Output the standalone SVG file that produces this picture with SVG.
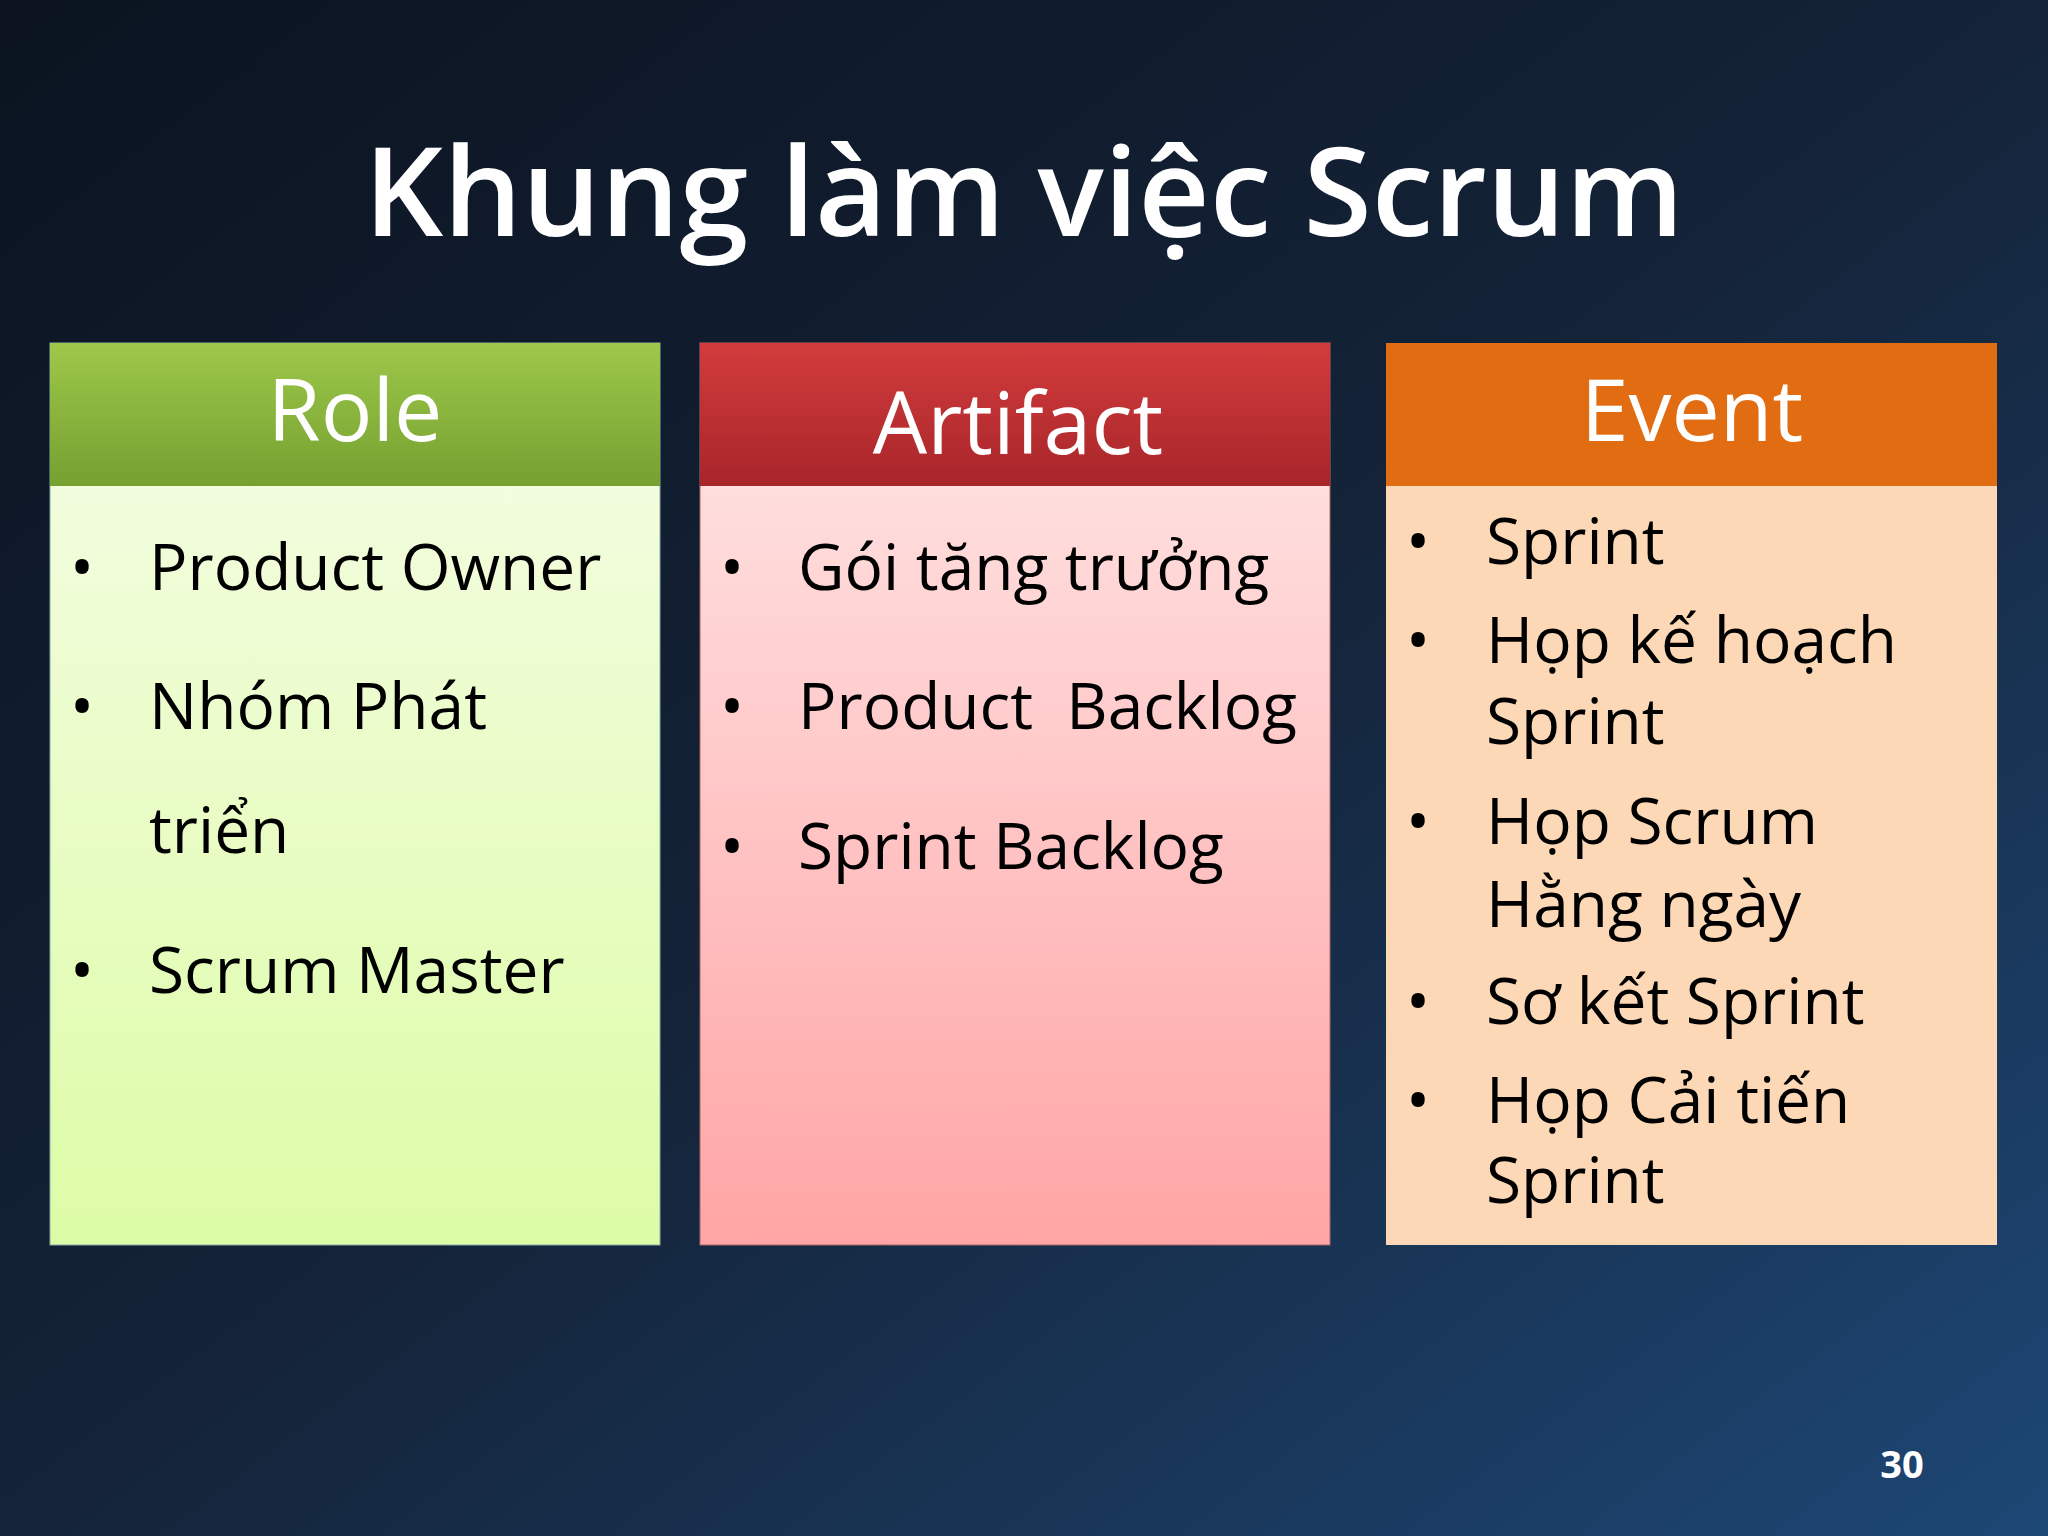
<svg xmlns="http://www.w3.org/2000/svg" width="2048" height="1536" viewBox="0 0 2048 1536">
<defs>
<linearGradient id="bg" x1="0" y1="0" x2="1" y2="1"><stop offset="0" stop-color="#0b1320"/><stop offset="0.5" stop-color="#142338"/><stop offset="1" stop-color="#1d4775"/></linearGradient>
<linearGradient id="gh" x1="0" y1="0" x2="0" y2="1"><stop offset="0" stop-color="#9dc84a"/><stop offset="1" stop-color="#76a030"/></linearGradient>
<linearGradient id="gb" x1="0" y1="0" x2="0" y2="1"><stop offset="0" stop-color="#f6fde8"/><stop offset="1" stop-color="#ddfca6"/></linearGradient>
<linearGradient id="rh" x1="0" y1="0" x2="0" y2="1"><stop offset="0" stop-color="#d23c3c"/><stop offset="1" stop-color="#a8252a"/></linearGradient>
<linearGradient id="rb" x1="0" y1="0" x2="0" y2="1"><stop offset="0" stop-color="#ffe8e8"/><stop offset="1" stop-color="#ffa5a5"/></linearGradient>
<style>
text{font-family:"Open Sans","Noto Sans","DejaVu Sans",sans-serif}
.h{fill:#fff;font-size:86px;text-anchor:middle}
.i{fill:#000;font-size:64px}
</style>
</defs>
<rect width="2048" height="1536" fill="url(#bg)"/>
<text x="1024" y="236" fill="#fff" font-size="124" font-weight="600" text-anchor="middle">Khung làm việc Scrum</text>
<g id="role">
<rect x="50" y="343" width="610" height="902" fill="url(#gb)" stroke="#8aa" stroke-width="1"/>
<rect x="50" y="343" width="610" height="143" fill="url(#gh)"/>
<text class="h" x="355" y="441">Role</text>
<g class="i"><text x="70" y="590">•</text><text x="149" y="590">Product Owner</text>
<text x="70" y="729">•</text><text x="149" y="729">Nhóm Phát</text><text x="149" y="853">triển</text>
<text x="70" y="993">•</text><text x="149" y="993">Scrum Master</text></g>
</g>
<g id="artifact">
<rect x="700" y="343" width="630" height="902" fill="url(#rb)" stroke="#a66" stroke-width="1"/>
<rect x="700" y="343" width="630" height="143" fill="url(#rh)"/>
<text class="h" x="1018" y="454" font-size="100">Artifact</text>
<g class="i"><text x="720" y="590">•</text><text x="798" y="590">Gói tăng trưởng</text>
<text x="720" y="729">•</text><text x="798" y="729" xml:space="preserve">Product  Backlog</text>
<text x="720" y="869">•</text><text x="798" y="869">Sprint Backlog</text></g>
</g>
<g id="event">
<rect x="1386" y="343" width="611" height="902" fill="#fdd8b6"/>
<rect x="1386" y="343" width="611" height="143" fill="#e26c12"/>
<text class="h" x="1692" y="441">Event</text>
<g class="i"><text x="1406" y="564">•</text><text x="1486" y="564">Sprint</text>
<text x="1406" y="663">•</text><text x="1486" y="663">Họp kế hoạch</text><text x="1486" y="744">Sprint</text>
<text x="1406" y="844">•</text><text x="1486" y="844">Họp Scrum</text><text x="1486" y="927">Hằng ngày</text>
<text x="1406" y="1024">•</text><text x="1486" y="1024">Sơ kết Sprint</text>
<text x="1406" y="1123">•</text><text x="1486" y="1123">Họp Cải tiến</text><text x="1486" y="1203">Sprint</text></g>
</g>
<text x="1902" y="1478" fill="#fff" font-size="38" font-weight="bold" text-anchor="middle">30</text>
</svg>
